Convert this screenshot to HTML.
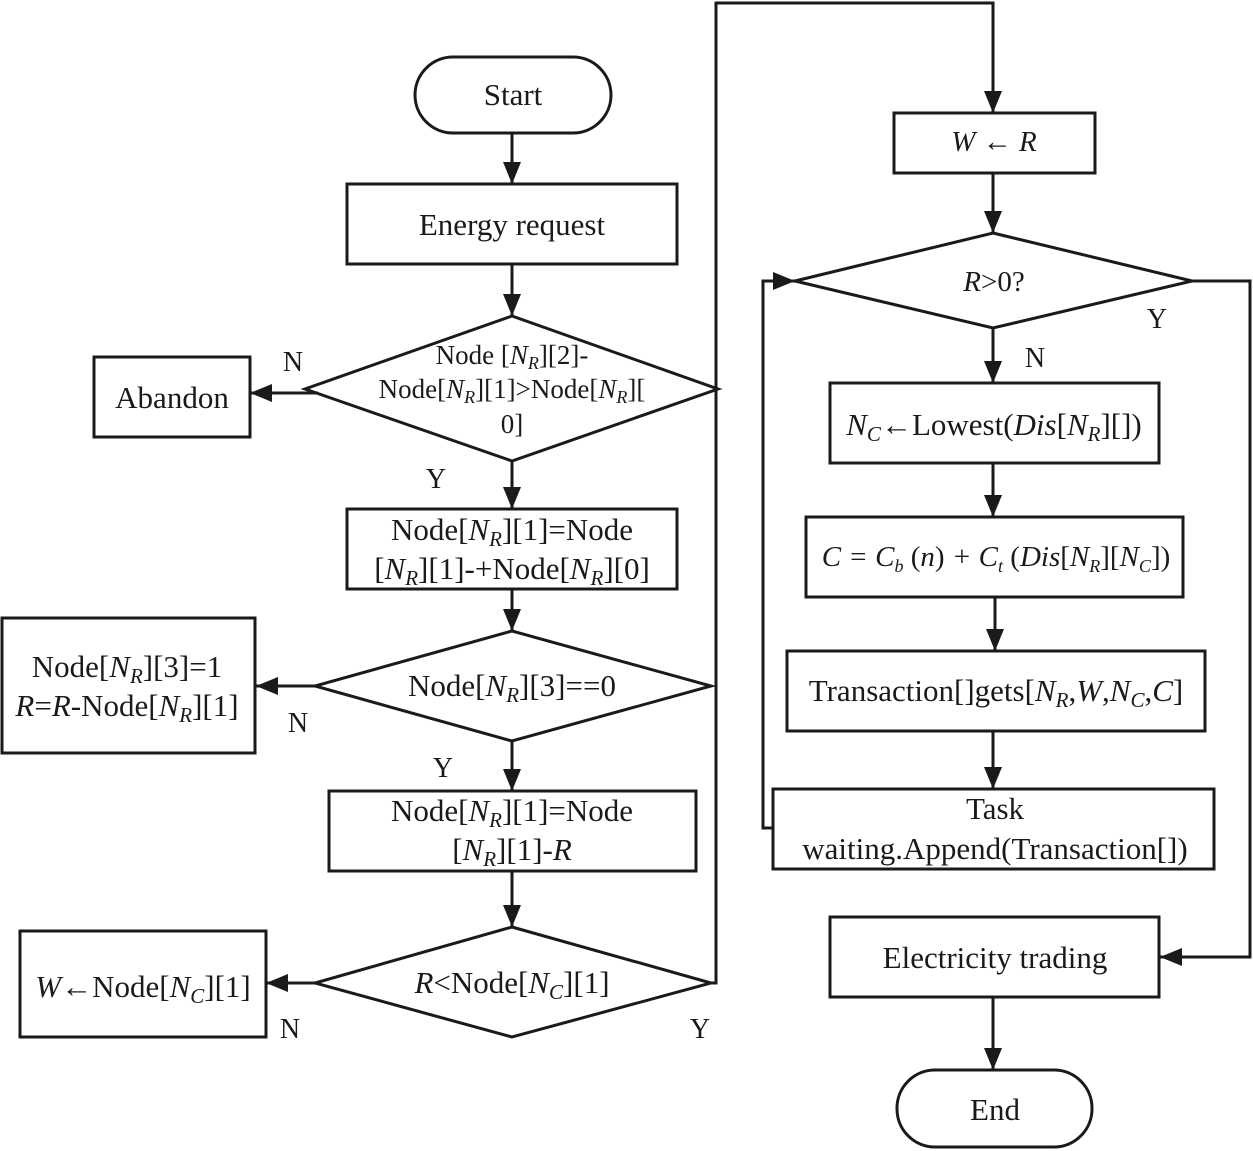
<!DOCTYPE html>
<html><head><meta charset="utf-8"><style>
html,body{margin:0;padding:0;background:#fff}
svg{display:block}
text{font-family:"Liberation Serif",serif;fill:#1a1a1a}
</style></head><body>
<svg width="1253" height="1151" viewBox="0 0 1253 1151" xmlns="http://www.w3.org/2000/svg">
<defs>
<marker id="b" markerWidth="22" markerHeight="36" refX="22" refY="9" orient="auto" markerUnits="userSpaceOnUse" viewBox="0 0 22 18"><path d="M0,0 L22,9 L0,18 z" fill="#1a1a1a"/></marker></defs>
<g fill="none" stroke="#1a1a1a" stroke-width="3">
<rect x="415" y="57" width="196" height="76" rx="38"/>
<rect x="347" y="184" width="330" height="80"/>
<polygon points="512,316 718,389 512,461 305,389"/>
<rect x="94" y="357" width="156" height="80"/>
<rect x="347" y="509" width="330" height="80"/>
<polygon points="512,631 711,686 512,741 315,686"/>
<rect x="2" y="618" width="253" height="135"/>
<rect x="329" y="791" width="367" height="80"/>
<polygon points="512,927 711,983 512,1037 315,983"/>
<rect x="20" y="931" width="246" height="106"/>
<rect x="894" y="113" width="201" height="60"/>
<polygon points="993,233 1192,281 993,328 795,281"/>
<rect x="830" y="383" width="329" height="80"/>
<rect x="806" y="517" width="377" height="80"/>
<rect x="787" y="651" width="418" height="80"/>
<rect x="773" y="789" width="441" height="80"/>
<rect x="830" y="917" width="329" height="80"/>
<rect x="897" y="1070" width="195" height="77" rx="38"/>
</g>
<g stroke="#1a1a1a" stroke-width="3" fill="none" marker-end="url(#b)">
<line x1="512" y1="133" x2="512" y2="184"/>
<line x1="512" y1="264" x2="512" y2="316"/>
<line x1="318" y1="393" x2="250" y2="393"/>
<line x1="512" y1="461" x2="512" y2="509"/>
<line x1="512" y1="589" x2="512" y2="631"/>
<line x1="315" y1="686" x2="256" y2="686"/>
<line x1="512" y1="741" x2="512" y2="791"/>
<line x1="512" y1="871" x2="512" y2="927"/>
<line x1="315" y1="983" x2="266" y2="983"/>
<polyline points="711,983 716,983 716,3 993,3 993,113"/>
<line x1="993" y1="173" x2="993" y2="233"/>
<polyline points="1192,281 1250,281 1250,957 1160,957"/>
<line x1="993" y1="328" x2="993" y2="383"/>
<line x1="993" y1="463" x2="993" y2="517"/>
<line x1="995" y1="597" x2="995" y2="651"/>
<line x1="993" y1="731" x2="993" y2="789"/>
<polyline points="773,828 763,828 763,281 795,281"/>
<line x1="993" y1="997" x2="993" y2="1070"/>
</g>
<g font-size="31" text-anchor="middle">
<text x="513" y="105">Start</text>
<text x="512" y="235">Energy request</text>
<text x="172" y="408">Abandon</text>
<text x="512" y="540">Node[<tspan font-style="italic">N<tspan font-size="21" dy="6">R</tspan></tspan><tspan dy="-6">][1]=Node</tspan></text>
<text x="512" y="579">[<tspan font-style="italic">N<tspan font-size="21" dy="6">R</tspan></tspan><tspan dy="-6">][1]-+Node[</tspan><tspan font-style="italic">N<tspan font-size="21" dy="6">R</tspan></tspan><tspan dy="-6">][0]</tspan></text>
<text x="512" y="696">Node[<tspan font-style="italic">N<tspan font-size="21" dy="6">R</tspan></tspan><tspan dy="-6">][3]==0</tspan></text>
<text x="127" y="677">Node[<tspan font-style="italic">N<tspan font-size="21" dy="6">R</tspan></tspan><tspan dy="-6">][3]=1</tspan></text>
<text x="127" y="716"><tspan font-style="italic">R</tspan>=<tspan font-style="italic">R</tspan>-Node[<tspan font-style="italic">N<tspan font-size="21" dy="6">R</tspan></tspan><tspan dy="-6">][1]</tspan></text>
<text x="512" y="821">Node[<tspan font-style="italic">N<tspan font-size="21" dy="6">R</tspan></tspan><tspan dy="-6">][1]=Node</tspan></text>
<text x="512" y="860">[<tspan font-style="italic">N<tspan font-size="21" dy="6">R</tspan></tspan><tspan dy="-6">][1]-</tspan><tspan font-style="italic">R</tspan></text>
<text x="512" y="993"><tspan font-style="italic">R</tspan>&lt;Node[<tspan font-style="italic">N<tspan font-size="21" dy="6">C</tspan></tspan><tspan dy="-6">][1]</tspan></text>
<text x="143" y="997"><tspan font-style="italic">W</tspan>←Node[<tspan font-style="italic">N<tspan font-size="21" dy="6">C</tspan></tspan><tspan dy="-6">][1]</tspan></text>
<text x="994" y="435"><tspan font-style="italic">N<tspan font-size="21" dy="6">C</tspan></tspan><tspan dy="-6">←Lowest(</tspan><tspan font-style="italic">Dis</tspan>[<tspan font-style="italic">N<tspan font-size="21" dy="6">R</tspan></tspan><tspan dy="-6">][])</tspan></text>
<text x="996" y="701">Transaction[]gets[<tspan font-style="italic">N<tspan font-size="21" dy="6">R</tspan></tspan><tspan dy="-6">,</tspan><tspan font-style="italic">W</tspan>,<tspan font-style="italic">N<tspan font-size="21" dy="6">C</tspan></tspan><tspan dy="-6">,</tspan><tspan font-style="italic">C</tspan>]</text>
<text x="995" y="819">Task</text>
<text x="995" y="859">waiting.Append(Transaction[])</text>
<text x="995" y="968">Electricity trading</text>
<text x="995" y="1120">End</text>
</g>
<g font-size="27" text-anchor="middle">
<text x="512" y="364">Node [<tspan font-style="italic">N<tspan font-size="18" dy="5">R</tspan></tspan><tspan dy="-5">][2]-</tspan></text>
<text x="512" y="398">Node[<tspan font-style="italic">N<tspan font-size="18" dy="5">R</tspan></tspan><tspan dy="-5">][1]&gt;Node[</tspan><tspan font-style="italic">N<tspan font-size="18" dy="5">R</tspan></tspan><tspan dy="-5">][</tspan></text>
<text x="512" y="433">0]</text>
<text x="994" y="151" font-size="29"><tspan font-style="italic">W</tspan> ← <tspan font-style="italic">R</tspan></text>
<text x="994" y="291" font-size="29"><tspan font-style="italic">R</tspan>&gt;0?</text>
<text x="996" y="566" font-size="29" font-style="italic">C = C<tspan font-size="18" dy="6">b</tspan><tspan dy="-6" font-style="normal"> (</tspan>n<tspan font-style="normal">)</tspan> + C<tspan font-size="18" dy="6">t</tspan><tspan dy="-6" font-style="normal"> (</tspan>Dis<tspan font-style="normal">[</tspan>N<tspan font-size="18" dy="6">R</tspan><tspan dy="-6" font-style="normal">][</tspan>N<tspan font-size="18" dy="6">C</tspan><tspan dy="-6" font-style="normal">])</tspan></text>
</g>
<g font-size="28" text-anchor="middle">
<text x="293" y="371">N</text>
<text x="436" y="488">Y</text>
<text x="298" y="732">N</text>
<text x="443" y="777">Y</text>
<text x="290" y="1038">N</text>
<text x="700" y="1038">Y</text>
<text x="1157" y="328">Y</text>
<text x="1035" y="367">N</text>
</g>
</svg>
</body></html>
